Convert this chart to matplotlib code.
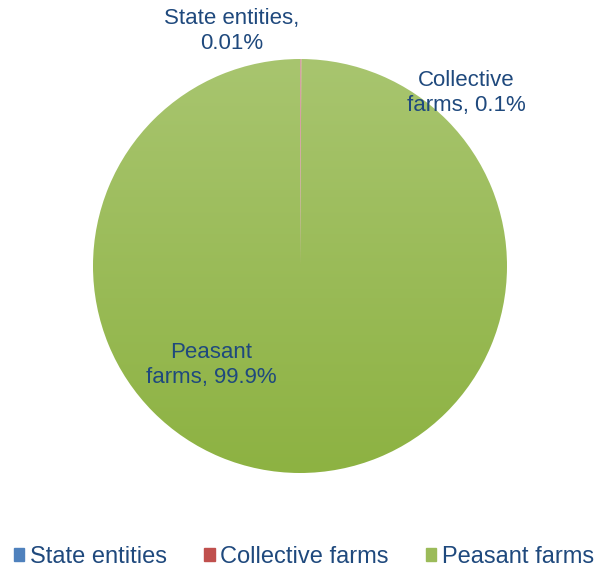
import numpy as np
import matplotlib
matplotlib.use("Agg")
import matplotlib.pyplot as plt
from matplotlib.colors import LinearSegmentedColormap

plt.rcParams['font.family'] = ['Liberation Sans', 'DejaVu Sans']

categories = ['State entities', 'Collective farms', 'Peasant farms']
shares = [0.01, 0.1, 99.9]
share_labels = ['0.01%', '0.1%', '99.9%']
label_text = ['State entities,\n', 'Collective\nfarms, ', 'Peasant\nfarms, ']
colors = ['#4f81bd', '#c0504d', '#9bbb59']
text_color = '#1f497d'

fig = plt.figure(figsize=(5.98, 5.68), dpi=100)
W, H = 598, 568
cx, cy, r = 300, 266, 207
ax = fig.add_axes([(cx - r) / W, 1 - (cy + r) / H, 2 * r / W, 2 * r / H])

wedges, _ = ax.pie(shares, colors=colors, startangle=90, counterclock=False,
                   radius=1, wedgeprops=dict(linewidth=0))
wedges[1].set_alpha(0.55)

# gradient fill for the big slice (lighter top, darker bottom)
cmap = LinearSegmentedColormap.from_list('g', ['#8db242', '#a8c56f'])
grad = np.linspace(0, 1, 256).reshape(-1, 1)
im = ax.imshow(grad, cmap=cmap, extent=[-1, 1, -1, 1], origin='lower',
               aspect='auto', zorder=wedges[2].get_zorder())
im.set_clip_path(wedges[2])
wedges[2].set_facecolor('none')
for w in wedges[:2]:
    w.set_zorder(5)

ax.set_xlim(-1, 1)
ax.set_ylim(-1, 1)
ax.set_aspect('equal')
ax.axis('off')

# label positions (pixel centres in the reference image)
label_pos = [(232, 31), (466, 93), (211, 365)]
for txt, val, (px, py) in zip(label_text, share_labels, label_pos):
    ax.text((px - cx) / r, (cy - py) / r, txt + val, ha='center', va='center',
            fontsize=16, color=text_color, linespacing=1.3, zorder=10)

handles = [plt.Rectangle((0, 0), 1, 1, color=c) for c in colors]
fig.legend(handles, categories, loc='center', bbox_to_anchor=(304 / W, 1 - 557 / H),
           ncol=3, frameon=False, fontsize=17, handlelength=0.45,
           handleheight=0.45, handletextpad=0.25, columnspacing=1.55,
           labelcolor=text_color)

fig.savefig('out.png', dpi=100)
